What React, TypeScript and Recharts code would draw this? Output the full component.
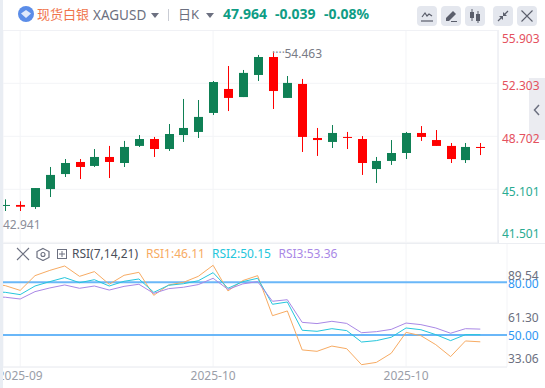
import { Bar, CartesianGrid, ComposedChart, Line, ReferenceLine, XAxis, YAxis } from "recharts";

const FONT = '"Noto Sans", "Noto Sans CJK SC", sans-serif';
const UP = "#0f8055";
const DOWN = "#ff0000";

const opens = [43.99, 44.04, 43.9, 45.12, 46.14, 46.96, 46.69, 47.3, 46.89, 48.05, 48.52, 47.84, 48.79, 49.0, 50.29, 51.92, 51.37, 52.87, 54.09, 51.31, 52.26, 48.59, 48.32, 48.66, 48.52, 46.48, 47.03, 47.57, 48.93, 48.45, 48.05, 47.09, 47.98];
const closes = [44.04, 43.92, 45.19, 46.08, 46.89, 46.62, 47.3, 46.96, 47.98, 48.52, 47.84, 48.86, 49.27, 50.02, 52.39, 51.31, 53.01, 54.09, 51.78, 52.33, 48.66, 48.45, 48.93, 48.61, 46.89, 47.03, 47.57, 48.93, 48.66, 48.05, 47.16, 47.98, 47.91];
const highs = [44.42, 44.29, 45.19, 46.62, 47.16, 47.16, 47.84, 48.05, 48.39, 48.79, 48.66, 49.54, 51.24, 51.17, 52.46, 53.48, 53.21, 54.23, 54.46, 52.8, 52.6, 49.27, 49.47, 49.0, 48.72, 47.3, 48.45, 49.0, 49.4, 49.13, 48.25, 48.25, 48.25];
const lows = [43.63, 43.63, 43.77, 44.58, 45.94, 45.8, 46.62, 45.87, 46.62, 47.98, 47.3, 47.71, 48.32, 48.59, 50.15, 50.42, 51.37, 52.46, 50.56, 51.31, 47.64, 47.37, 47.91, 47.84, 46.08, 45.53, 46.76, 47.16, 48.39, 48.05, 46.89, 46.89, 47.43];

// first value of each RSI list belongs to the bar just off the left edge
const rsi1 = [79.2, 78.1, 75.4, 83.8, 86.8, 89.3, 83.4, 86.1, 78.9, 84.0, 85.7, 72.6, 78.5, 80.0, 83.4, 89.7, 75.1, 81.0, 83.8, 61.0, 63.7, 41.5, 40.7, 43.7, 42.2, 33.1, 34.4, 39.6, 51.5, 49.6, 44.5, 37.7, 46.6, 46.11];
const rsi2 = [74.7, 74.3, 73.0, 77.9, 80.4, 82.7, 79.8, 81.5, 77.9, 80.6, 81.9, 74.3, 78.3, 79.2, 80.9, 85.5, 76.6, 80.4, 82.3, 67.5, 68.8, 52.7, 52.1, 53.6, 52.5, 46.0, 46.8, 48.7, 54.0, 53.0, 50.2, 46.8, 50.2, 50.15];
const rsi3 = [71.8, 71.5, 70.5, 74.7, 76.8, 78.5, 76.6, 77.9, 75.6, 77.7, 78.9, 73.7, 76.4, 77.2, 78.7, 82.3, 76.0, 79.1, 80.4, 69.2, 70.1, 57.2, 56.5, 57.8, 56.6, 51.3, 51.9, 53.2, 56.8, 55.9, 54.0, 51.0, 53.6, 53.36];

const priceTicks = [55.903, 52.303, 48.702, 45.101, 41.501];
const rsiLevels = [80, 50];
const rsiRangeTicks = [89.54, 61.3, 33.06];
const timeTicks = [1, 14, 27];
const timeLabels = ["2025-09", "2025-10", "2025-10"];

const rows = rsi1.map((_, i) => {
  const k = i - 1;
  return {
    idx: k,
    open: opens[k],
    close: closes[k],
    high: highs[k],
    low: lows[k],
    range: k >= 0 ? [lows[k], highs[k]] : null,
    rsi1: rsi1[i],
    rsi2: rsi2[i],
    rsi3: rsi3[i],
  };
});

function Candle(props: any) {
  const { x, y, width, height, payload } = props;
  if (!payload || payload.high == null) return null;
  const { open, close, high, low } = payload;
  const at = (p: number) => y + ((high - p) / (high - low)) * height;
  const color = close >= open ? UP : DOWN;
  const top = at(Math.max(open, close));
  const bodyH = Math.max(at(Math.min(open, close)) - top, 1);
  const cx = Math.round(x + width / 2);
  return (
    <g>
      <rect x={cx} y={y} width={1} height={height} fill={color} />
      <rect x={cx - 4} y={top} width={9} height={bodyH} fill={color} />
    </g>
  );
}

function PriceTick(props: any) {
  const { y, payload } = props;
  const labelY = Math.min(Math.max(y + 2, 8), 203.7);
  return (
    <text x={502} y={labelY} dominantBaseline="central" fontSize={12} fontFamily={FONT} fill={payload.value > 47 ? "#e4515e" : "#29ab92"}>
      {payload.value.toFixed(3)}
    </text>
  );
}

function LevelTick(props: any) {
  const { y, payload } = props;
  return (
    <text x={508} y={y + 1} dominantBaseline="central" fontSize={12} fontFamily={FONT} fill="#2f96f3">
      {payload.value.toFixed(2)}
    </text>
  );
}

function RangeTick(props: any) {
  const { y, payload } = props;
  return (
    <text x={508} y={y} dominantBaseline="central" fontSize={12} fontFamily={FONT} fill="#6c7080">
      {payload.value.toFixed(2)}
    </text>
  );
}

function TimeTick(props: any) {
  const { x, y, payload } = props;
  return (
    <text x={x} y={y} textAnchor="middle" dominantBaseline="central" fontSize={12} fontFamily={FONT} fill="#9a9ea8">
      {timeLabels[timeTicks.indexOf(payload.value)]}
    </text>
  );
}

function Label({ x, y, color, size = 12, bold, children }: any) {
  return (
    <div style={{ position: "absolute", left: x, top: y - 10, height: 20, lineHeight: "20px", fontSize: size, fontWeight: bold ? 700 : 400, color, whiteSpace: "nowrap", fontFamily: FONT }}>
      {children}
    </div>
  );
}

function Button({ x, children }: any) {
  return (
    <svg width={20} height={20} viewBox="0 0 20 20" style={{ position: "absolute", left: x, top: 6 }}>
      <rect width={20} height={20} rx={4} fill="#e4e7ee" />
      {children}
    </svg>
  );
}

function Caret({ x, y }: any) {
  return (
    <svg width={8} height={5} style={{ position: "absolute", left: x, top: y }}>
      <path d="M0 0H8L4 5Z" fill="#6c7080" />
    </svg>
  );
}

function Header() {
  return (
    <>
      <svg width={18} height={18} viewBox="0 0 18 18" style={{ position: "absolute", left: 17, top: 5 }}>
        <circle cx={9} cy={9} r={8} fill="#5b8de8" />
        <path d="M9 5L14 8.5L9 13L4 8.5Z" fill="#dfe9fb" />
      </svg>
      <Label x={37} y={14} size={13} color="#f0744c">现货白银</Label>
      <Label x={93} y={15} size={13.5} color="#6c7080">XAGUSD</Label>
      <Caret x={151} y={13} />
      <div style={{ position: "absolute", left: 168, top: 9, width: 1, height: 12, background: "#c9ccd4" }} />
      <Label x={178} y={14} size={13} color="#6c7080">日K</Label>
      <Caret x={206} y={13} />
      <Label x={223} y={14} size={14} bold color="#0f9d85">47.964</Label>
      <Label x={275} y={14} size={14} bold color="#0f9d85">-0.039</Label>
      <Label x={324} y={14} size={14} bold color="#0f9d85">-0.08%</Label>
      <Button x={417}>
        <path d="M5 11L8 7L10 10L12 8L15 10" fill="none" stroke="#5a5e6b" strokeWidth={1.2} />
        <path d="M4 15H16" stroke="#5a5e6b" strokeWidth={1.2} />
      </Button>
      <Button x={441}>
        <path d="M5 12L12 5L15 8L8 15H5Z" fill="#5a5e6b" />
        <path d="M10 15.5H16" stroke="#5a5e6b" strokeWidth={1} />
      </Button>
      <Button x={465}>
        <path d="M7 3V15M13 5V17" stroke="#5a5e6b" strokeWidth={1} />
        <rect x={5} y={6} width={4} height={6} fill="#5a5e6b" />
        <rect x={11} y={8} width={4} height={7} fill="#5a5e6b" />
      </Button>
      <Button x={493}>
        <path d="M15 5L11 9M5 15L9 11" stroke="#5a5e6b" strokeWidth={1.2} />
        <path d="M10 6V10H14Z M10 14V10H6Z" fill="#5a5e6b" />
      </Button>
      <Button x={517}>
        <path d="M4.5 4.5L15.5 15.5M15.5 4.5L4.5 15.5" stroke="#5a5e6b" strokeWidth={1.1} />
      </Button>
    </>
  );
}

function RsiLegend() {
  return (
    <>
      <svg width={70} height={14} style={{ position: "absolute", left: 16, top: 247 }}>
        <path d="M1 1L13 13M13 1L1 13" stroke="#6c7080" strokeWidth={1.1} />
        <path d="M27 1.5L33 4.5V10.5L27 13.5L21 10.5V4.5Z" fill="none" stroke="#6c7080" strokeWidth={1.2} />
        <circle cx={27} cy={7.5} r={2} fill="none" stroke="#6c7080" strokeWidth={1.1} />
        <rect x={41.5} y={2.5} width={9} height={9} fill="none" stroke="#6c7080" />
        <path d="M46 4V10M43 7H49" stroke="#6c7080" />
      </svg>
      <Label x={72} y={254} color="#4a4e5a">RSI(7,14,21)</Label>
      <Label x={146} y={254} color="#f7ab63">RSI1:46.11</Label>
      <Label x={212} y={254} color="#25c6dc">RSI2:50.15</Label>
      <Label x={278.5} y={254} color="#a988e6">RSI3:53.36</Label>
    </>
  );
}

export default function App() {
  return (
    <div style={{ position: "absolute", left: 0, top: 0, width: 545, height: 388, background: "#fff", overflow: "hidden", fontFamily: FONT }}>
      <div style={{ position: "absolute", left: 529, top: 78, width: 16, height: 62, background: "#ebecf1" }} />
      <svg width={8} height={12} style={{ position: "absolute", left: 533, top: 104 }}>
        <path d="M6 1L1.5 6L6 11" fill="none" stroke="#6c7080" strokeWidth={1.5} />
      </svg>

      <div style={{ position: "absolute", top: 30 }}>
        <ComposedChart width={545} height={213} data={rows} margin={{ top: 0, right: 0, bottom: 0, left: 3 }}>
          <CartesianGrid stroke="#f3f4f7" />
          <XAxis dataKey="idx" type="number" domain={[-0.157, 33.2]} allowDataOverflow ticks={timeTicks} hide />
          <YAxis orientation="right" width={47} domain={[41.456, 55.925]} allowDataOverflow ticks={priceTicks} interval={0} axisLine={{ stroke: "#e8eaf0" }} tickLine={false} tick={PriceTick} />
          <Bar dataKey="range" barSize={9} shape={Candle} isAnimationActive={false} />
        </ComposedChart>
      </div>

      <div style={{ position: "absolute", top: 243 }}>
        <ComposedChart width={545} height={145} data={rows} margin={{ top: 0, right: 0, bottom: 0, left: 3 }}>
          <CartesianGrid stroke="#f3f4f7" />
          <XAxis dataKey="idx" type="number" height={21} domain={[-0.157, 33.8]} allowDataOverflow ticks={timeTicks} interval={0} axisLine={{ stroke: "#eceef2" }} tickLine={false} tick={TimeTick} />
          <YAxis yAxisId="rsi" orientation="right" width={37} domain={[31.77, 102.4]} allowDataOverflow ticks={rsiLevels} interval={0} axisLine={false} tickLine={false} tick={LevelTick} />
          <YAxis yAxisId="range" orientation="right" width={1} domain={[27.14, 111.86]} allowDataOverflow ticks={rsiRangeTicks} interval={0} axisLine={false} tickLine={false} tick={RangeTick} />
          {rsiLevels.map((v) => (
            <ReferenceLine key={v} yAxisId="rsi" y={v} stroke="#6ab7f8" strokeWidth={2} />
          ))}
          <Line yAxisId="rsi" dataKey="rsi1" stroke="#f7ab63" strokeWidth={1} dot={false} isAnimationActive={false} />
          <Line yAxisId="rsi" dataKey="rsi2" stroke="#25c6dc" strokeWidth={1} dot={false} isAnimationActive={false} />
          <Line yAxisId="rsi" dataKey="rsi3" stroke="#a988e6" strokeWidth={1} dot={false} isAnimationActive={false} />
        </ComposedChart>
      </div>

      <div style={{ position: "absolute", left: 3, top: 243, width: 542, height: 1, background: "#eceef2" }} />
      <div style={{ position: "absolute", left: 498, top: 240, width: 1, height: 3, background: "#e8eaf0" }} />
      <div style={{ position: "absolute", left: 3, top: 30, width: 495, height: 1, background: "#f0f1f5" }} />
      <div style={{ position: "absolute", left: 0, top: 0, width: 3, height: 388, background: "#e9edf3" }} />

      <Header />
      <RsiLegend />
      <Label x={272} y={53} color="#8a8d99">{"····"}</Label>
      <Label x={284.5} y={53.5} color="#787b86">54.463</Label>
      <Label x={3} y={225} color="#8a8d99">42.941</Label>
    </div>
  );
}
